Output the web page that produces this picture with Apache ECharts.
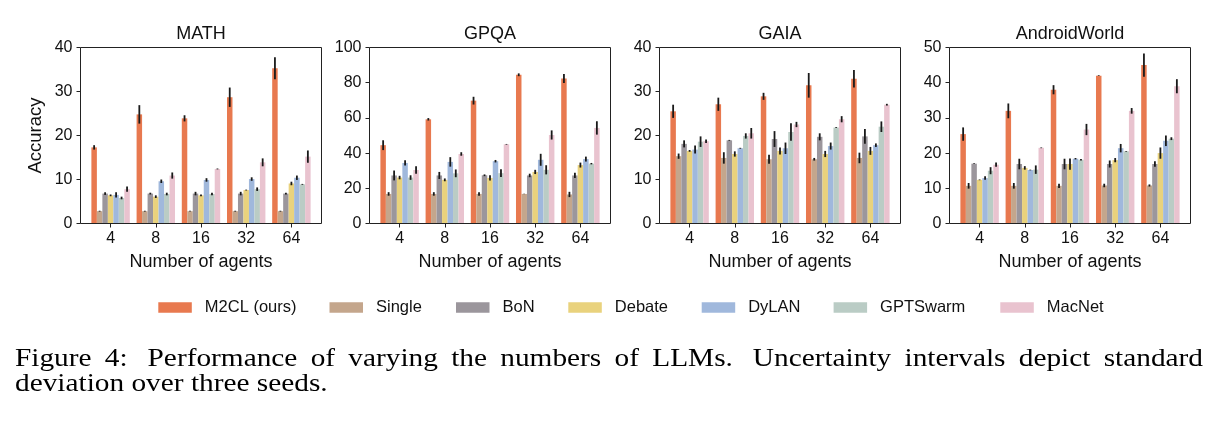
<!DOCTYPE html>
<html>
<head>
<meta charset="utf-8">
<script src="https://cdn.jsdelivr.net/npm/echarts@6/dist/echarts.min.js"></script>
<style>
html,body{margin:0;padding:0;background:#fff;}
#chart{width:1218px;height:424px;}
</style>
</head>
<body>
<div id="chart"></div>
<script>
// ---------------- DATA ----------------
const categories = ['4', '8', '16', '32', '64'];
const methods = ['M2CL (ours)', 'Single', 'BoN', 'Debate', 'DyLAN', 'GPTSwarm', 'MacNet'];
const panelTitles = ['MATH', 'GPQA', 'GAIA', 'AndroidWorld'];
const yMax = [40, 100, 40, 50];
const yInterval = [10, 20, 10, 10];
const xAxisTitle = 'Number of agents';
const yAxisTitle = 'Accuracy';

// means, one row per method (order as in `methods`), columns = categories
const mathMean = [
  [17.3, 24.8, 23.9, 28.7, 35.3],
  [2.8, 2.8, 2.8, 2.8, 2.8],
  [6.8, 6.8, 6.8, 6.8, 6.8],
  [6.4, 6.1, 6.4, 7.6, 9.1],
  [6.5, 9.6, 9.9, 10.1, 10.4],
  [5.8, 6.7, 6.7, 7.8, 8.9],
  [7.8, 10.9, 12.4, 13.9, 15.2]
];
const mathErr = [
  [0.5, 2.1, 0.7, 2.2, 2.5],
  [0.1, 0.1, 0.1, 0.1, 0.1],
  [0.3, 0.2, 0.4, 0.4, 0.2],
  [0.2, 0.3, 0.2, 0.1, 0.4],
  [0.6, 0.4, 0.4, 0.4, 0.5],
  [0.3, 0.3, 0.3, 0.4, 0.1],
  [0.6, 0.7, 0.1, 0.9, 1.4]
];
const gpqaMean = [
  [44.5, 59.2, 69.8, 84.5, 82.4],
  [16.8, 16.8, 16.8, 16.8, 16.5],
  [27.3, 27.3, 27.4, 27.3, 27.3],
  [26.1, 24.8, 25.9, 29.3, 33.2],
  [34.4, 35.0, 35.4, 36.2, 36.6],
  [26.1, 28.5, 28.6, 30.5, 34.0],
  [30.4, 39.5, 45.0, 50.3, 54.3]
];
const gpqaErr = [
  [2.8, 0.7, 2.2, 0.8, 2.6],
  [1.0, 1.0, 1.0, 0.1, 1.5],
  [2.8, 2.0, 0.5, 1.0, 1.5],
  [1.0, 0.8, 1.5, 1.2, 1.4],
  [1.5, 2.7, 0.7, 3.4, 1.4],
  [1.3, 2.2, 2.2, 2.6, 0.4],
  [2.1, 1.0, 0.2, 2.6, 3.8]
];
const gaiaMean = [
  [25.5, 27.1, 28.9, 31.4, 32.9],
  [15.3, 14.9, 14.6, 14.6, 14.9],
  [18.1, 18.9, 19.2, 19.7, 19.8],
  [16.5, 15.8, 16.5, 15.8, 16.5],
  [16.8, 17.1, 17.1, 17.6, 17.8],
  [18.6, 19.9, 20.8, 21.8, 22.0],
  [18.7, 20.5, 22.5, 23.7, 27.0]
];
const gaiaErr = [
  [1.5, 1.5, 0.8, 2.8, 2.0],
  [0.6, 1.3, 1.0, 0.3, 1.2],
  [0.8, 0.1, 1.8, 0.8, 1.7],
  [0.2, 0.6, 0.8, 0.7, 0.9],
  [0.9, 0.1, 1.3, 0.8, 0.4],
  [1.2, 0.6, 2.0, 0.1, 1.2],
  [0.4, 1.2, 0.6, 0.7, 0.2]
];
const androidMean = [
  [25.4, 32.0, 38.0, 42.0, 45.0],
  [10.7, 10.7, 10.7, 10.8, 10.8],
  [17.0, 16.9, 16.9, 16.9, 16.9],
  [12.4, 15.8, 16.9, 18.0, 20.0],
  [12.9, 15.2, 18.4, 21.4, 23.5],
  [15.0, 15.3, 18.1, 20.5, 24.1],
  [16.7, 21.5, 26.7, 32.0, 39.0]
];
const androidErr = [
  [1.9, 2.1, 1.3, 0.1, 3.3],
  [0.8, 0.8, 0.6, 0.5, 0.3],
  [0.1, 1.5, 1.5, 1.0, 0.8],
  [0.1, 0.5, 1.6, 0.6, 1.6],
  [0.5, 0.1, 0.2, 1.2, 1.5],
  [1.0, 1.2, 0.2, 0.1, 0.4],
  [0.6, 0.1, 1.6, 0.8, 2.0]
];
const captionLine1 = 'Figure 4:  Performance of varying the numbers of LLMs.  Uncertainty intervals depict standard';
const captionLine2 = 'deviation over three seeds.';

// ---------------- STYLE / LAYOUT ----------------
const colors = ['#E8794F', '#C4A68C', '#9B969C', '#E9D27D', '#A0B8DC', '#BACCC5', '#E9C3CF'];
const allMeans = [mathMean, gpqaMean, gaiaMean, androidMean];
const allErrs = [mathErr, gpqaErr, gaiaErr, androidErr];
const frameLeft = [80.5, 369.5, 659.5, 949.5];
const frameW = 241, frameTop = 47.5, frameH = 176;
const innerPad = 7.5;
const catGap = 0.15;
const sans = '"Liberation Sans", Arial, Helvetica, sans-serif';
const serif = '"Liberation Serif", "Times New Roman", serif';
const ink = '#111';
const legendLeft = [158.3, 329.5, 456, 568.3, 701.7, 833.6, 1000.3];

const grids = [], xAxes = [], yAxes = [], series = [], graphics = [];
panelTitles.forEach((t, i) => {
  const L = frameLeft[i];
  grids.push({left: L + innerPad, top: frameTop, width: frameW - 2 * innerPad, height: frameH});
  xAxes.push({
    gridIndex: i, type: 'category', data: categories,
    axisLine: {show: false},
    axisTick: {show: true, alignWithLabel: true, length: 4, lineStyle: {color: '#222', width: 1}},
    axisLabel: {fontSize: 16, color: ink, fontFamily: sans, margin: 7},
    splitLine: {show: false}
  });
  yAxes.push({
    gridIndex: i, type: 'value', min: 0, max: yMax[i], interval: yInterval[i], offset: innerPad,
    axisLine: {show: false},
    axisTick: {show: true, length: 4, lineStyle: {color: '#222', width: 1}},
    axisLabel: {fontSize: 16, color: ink, fontFamily: sans, margin: 8},
    splitLine: {show: false}
  });
  methods.forEach((m, k) => {
    series.push({
      type: 'bar', name: m, xAxisIndex: i, yAxisIndex: i,
      data: allMeans[i][k],
      itemStyle: {color: colors[k]},
      barGap: '0%', barCategoryGap: (catGap * 100) + '%',
      silent: true
    });
  });
  const errData = [];
  methods.forEach((m, k) => {
    categories.forEach((c, j) => {
      errData.push([j, k, allMeans[i][k][j], allErrs[i][k][j]]);
    });
  });
  series.push({
    type: 'custom', xAxisIndex: i, yAxisIndex: i, silent: true, z: 5,
    encode: {x: 0, y: 2},
    data: errData,
    renderItem: function (params, api) {
      const j = api.value(0), k = api.value(1), mu = api.value(2), e = api.value(3);
      const band = api.size([1, 0])[0];
      const bw = band * (1 - catGap) / methods.length;
      const c = api.coord([j, mu]);
      const x = c[0] + (k - (methods.length - 1) / 2) * bw;
      const y1 = api.coord([j, mu + e])[1];
      const y2 = api.coord([j, mu - e])[1];
      return {type: 'line', shape: {x1: x, y1: y1, x2: x, y2: y2},
              style: {stroke: '#1a1a1a', lineWidth: 1.8}};
    }
  });
  // frame
  graphics.push({type: 'rect', shape: {x: L, y: frameTop, width: frameW, height: frameH},
    style: {fill: 'none', stroke: '#222', lineWidth: 1}, z: 10, silent: true});
  // title
  graphics.push({type: 'text', x: L + frameW / 2, y: 34.5,
    style: {text: t, fontSize: 18, fontFamily: sans, fill: ink, align: 'center', verticalAlign: 'middle'}});
  // x axis name
  graphics.push({type: 'text', x: L + frameW / 2, y: 262,
    style: {text: xAxisTitle, fontSize: 18, fontFamily: sans, fill: ink, align: 'center', verticalAlign: 'middle'}});
});
// y axis name (first panel only)
graphics.push({type: 'text', x: 36, y: frameTop + frameH / 2, rotation: Math.PI / 2,
  style: {text: yAxisTitle, fontSize: 18.5, fontFamily: sans, fill: ink, align: 'center', verticalAlign: 'middle'}});

// caption (justified first line)
const capSize = 25.5, capScale = 1.15;
const cv = document.createElement('canvas').getContext('2d');
cv.font = capSize + 'px ' + serif;
const words = captionLine1.split(/ +/);
const rawGaps = captionLine1.match(/ +/g) || [];
const widths = words.map(w => cv.measureText(w).width * capScale);
const capX0 = 15, capX1 = 1203;
const totalW = widths.reduce((a, b) => a + b, 0);
const gapWeights = rawGaps.map(g => g.length > 1 ? 1.5 : 1);
const wSum = gapWeights.reduce((a, b) => a + b, 0);
const unit = (capX1 - capX0 - totalW) / wSum;
let cx = capX0;
words.forEach((w, idx) => {
  graphics.push({type: 'text', x: cx, y: 359.5, scaleX: capScale,
    style: {text: w, fontSize: capSize, fontFamily: serif, fill: '#000', align: 'left', verticalAlign: 'middle'}});
  cx += widths[idx] + (idx < gapWeights.length ? gapWeights[idx] * unit : 0);
});
graphics.push({type: 'text', x: capX0, y: 384.5, scaleX: capScale,
  style: {text: captionLine2, fontSize: capSize, fontFamily: serif, fill: '#000', align: 'left', verticalAlign: 'middle'}});

const legends = methods.map((m, k) => ({
  data: [m], left: legendLeft[k], top: 299, padding: 0, icon: 'rect',
  itemWidth: 33.5, itemHeight: 10.7, selectedMode: false,
  textStyle: {fontSize: 16.5, color: ink, fontFamily: sans, padding: [0, 0, 0, 8]}
}));

const chart = echarts.init(document.getElementById('chart'), null, {renderer: 'canvas'});
chart.setOption({
  animation: false,
  backgroundColor: '#fff',
  grid: grids, xAxis: xAxes, yAxis: yAxes, series: series,
  legend: legends,
  graphic: {elements: graphics}
});
</script>
</body>
</html>
